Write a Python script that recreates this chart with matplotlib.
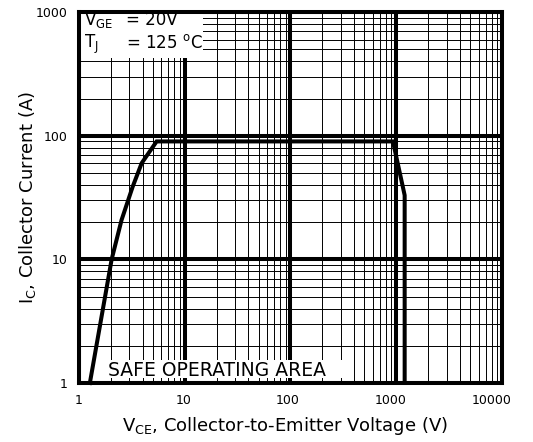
import matplotlib
matplotlib.use("Agg")
import matplotlib.pyplot as plt
import matplotlib.patches as patches
from matplotlib.transforms import ScaledTranslation

# Safe operating area boundary
vce = [1.27, 2.04, 2.53, 3.22, 3.92, 5.43, 930, 1200, 1200]
ic = [1, 10, 20.8, 38.6, 60, 90, 90, 33, 1]

x_ticks = [1, 10, 100, 1000, 10000]
x_labels = ["1", "10", "100", "1000", "10000"]
y_ticks = [1, 10, 100, 1000]
y_labels = ["1", "10", "100", "1000"]

plt.rcParams['font.family'] = ['DejaVu Sans']
plt.rcParams['mathtext.fontset'] = 'dejavusans'

fig = plt.figure(figsize=(5.33, 4.42), dpi=100)
ax = fig.add_axes([0.148, 0.1335, 0.794, 0.839])

ax.set_xscale('log')
ax.set_yscale('log')
ax.set_xlim(1, 10000)
ax.set_ylim(1, 1000)

ax.set_axisbelow(True)
ax.grid(which='major', color='black', linewidth=2.9)
ax.grid(which='minor', color='black', linewidth=0.7)

ax.set_xticks(x_ticks)
ax.set_xticklabels(x_labels)
ax.set_yticks(y_ticks)
ax.set_yticklabels(y_labels)
ax.tick_params(which='both', length=0, labelsize=9, pad=8)
# the original labels drift slightly left with length
for lab, dx in zip(ax.get_xticklabels(), [0, -1, -3, -6, -10]):
    lab.set_transform(lab.get_transform() + ScaledTranslation(dx / 100, 0, fig.dpi_scale_trans))
for s in ax.spines.values():
    s.set_linewidth(2.9)
    s.set_zorder(5)

# white label boxes covering the grid
ax.add_patch(patches.Rectangle((0, 0.876), 0.293, 0.124, transform=ax.transAxes,
                               facecolor='white', edgecolor='none', zorder=2))
ax.add_patch(patches.Rectangle((0.033, 0.0135), 0.603, 0.0485, transform=ax.transAxes,
                               facecolor='white', edgecolor='none', zorder=2))

ax.text(0.012, 0.965, r"V$_{\mathrm{GE}}$", transform=ax.transAxes,
        fontsize=12, va='baseline', ha='left', zorder=3)
ax.text(0.111, 0.965, "= 20V", transform=ax.transAxes,
        fontsize=12, va='baseline', ha='left', zorder=3)
ax.text(0.012, 0.903, r"T$_{\mathrm{ J}}$", transform=ax.transAxes,
        fontsize=12, va='baseline', ha='left', zorder=3)
ax.text(0.111, 0.903, r"= 125 $^{\mathrm{o}}$C", transform=ax.transAxes,
        fontsize=12, va='baseline', ha='left', zorder=3)
ax.text(0.0686, 0.019, "SAFE OPERATING AREA", transform=ax.transAxes,
        fontsize=13.5, va='baseline', ha='left', zorder=3)

ax.plot(vce, ic, color='black', linewidth=2.9, zorder=4, clip_on=False,
        solid_joinstyle='miter')

ax.set_xlabel(r"V$_{\mathrm{CE}}$, Collector-to-Emitter Voltage (V)", fontsize=13)
ax.xaxis.set_label_coords(0.486, -0.085)
ax.set_ylabel(r"I$_{\mathrm{C}}$, Collector Current (A)", fontsize=13)
ax.yaxis.set_label_coords(-0.097, 0.5)

fig.savefig("out.png", dpi=100)
